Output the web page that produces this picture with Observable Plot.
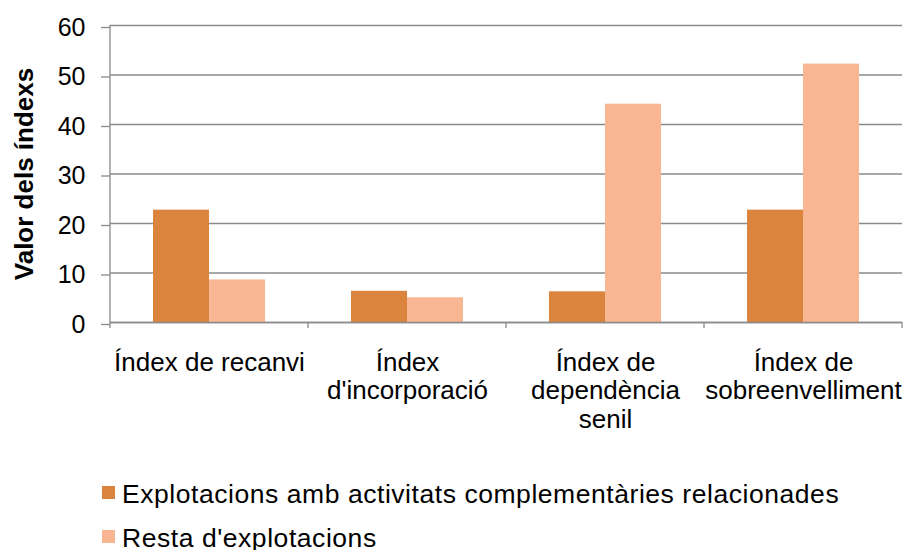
<!DOCTYPE html>
<html>
<head>
<meta charset="utf-8">
<script src="https://cdn.jsdelivr.net/npm/d3@7"></script>
<script src="https://cdn.jsdelivr.net/npm/@observablehq/plot@0.6"></script>
<style>
  html, body { margin: 0; padding: 0; background: #fff; }
  #wrap { position: relative; width: 908px; height: 550px; overflow: hidden; font-family: 'Liberation Sans', Arial, sans-serif; }
  .legend-row { position: absolute; left: 102px; height: 32px; font-size: 26.5px; line-height: 32px; letter-spacing: 0.55px; color: #000; white-space: nowrap; }
  .legend-row .sw { position: absolute; left: 0; top: 8px; width: 13px; height: 13px; }
  .legend-row .tx { position: absolute; left: 20px; top: 0; }
</style>
</head>
<body>
<div id="wrap"></div>
<script>
const categories = ["Índex de recanvi", "Índex d'incorporació", "Índex de dependència senil", "Índex de sobreenvelliment"];
const tickLabels = ["Índex de recanvi", "Índex\nd'incorporació", "Índex de\ndependència\nsenil", "Índex de\nsobreenvelliment"];
const seriesNames = ["Explotacions amb activitats complementàries relacionades", "Resta d'explotacions"];
const seriesA = [22.7, 6.3, 6.2, 22.7];
const seriesB = [8.6, 5.0, 44.1, 52.2];
const colors = ["#DB843E", "#F9B692"];
const yTicks = [0, 10, 20, 30, 40, 50, 60];
const yTitle = "Valor dels índexs";

const rows = categories.flatMap((c, i) => [
  {category: c, series: seriesNames[0], value: seriesA[i]},
  {category: c, series: seriesNames[1], value: seriesB[i]}
]);

const gridColor = "#8a8a8a";

const chart = Plot.plot({
  width: 908,
  height: 455,
  marginLeft: 109,
  marginRight: 5,
  marginTop: 25,
  marginBottom: 133,
  style: {fontFamily: "'Liberation Sans', Arial, sans-serif", background: "white", color: "#000"},
  fx: {domain: categories, padding: 0, label: null},
  x: {domain: seriesNames, paddingInner: 0, paddingOuter: 0.74, axis: null},
  y: {domain: [0, 60], label: null},
  color: {domain: seriesNames, range: colors},
  marks: [
    Plot.gridY(yTicks, {stroke: gridColor, strokeOpacity: 1, strokeWidth: 1.3}),
    Plot.barY(rows, {fx: "category", x: "series", y: "value", fill: "series"}),
    Plot.ruleY([0], {stroke: gridColor, strokeWidth: 1.3}),
    Plot.axisY(yTicks, {tickSize: 9, tickPadding: 16, fontSize: 25, stroke: gridColor, strokeWidth: 1.3, strokeOpacity: 1, label: null, dy: 2}),
    Plot.axisFx({anchor: "bottom", tickSize: 0, tickPadding: 28, fontSize: 26, lineHeight: 1.1, label: null,
      tickFormat: c => tickLabels[categories.indexOf(c)]}),
    Plot.text([yTitle], {fx: () => categories[0], frameAnchor: "left", textAnchor: "middle", lineAnchor: "middle",
      rotate: -90, dx: -86, fontWeight: "bold", fontSize: 26, fill: "#000"})
  ]
});

// axis line and category boundary ticks, positioned with the plot's own scales
const fx = chart.scale("fx");
const ys = chart.scale("y");
const y0 = ys.apply(0), yTop = ys.apply(60);
const edges = categories.map(c => fx.apply(c)).concat([fx.apply(categories[categories.length - 1]) + fx.bandwidth]);
const g = d3.select(chart).append("g").attr("stroke", gridColor).attr("stroke-width", 1.3);
g.append("line").attr("x1", edges[0]).attr("x2", edges[0]).attr("y1", yTop).attr("y2", y0 + 6);
edges.slice(1).forEach(x => g.append("line").attr("x1", x).attr("x2", x).attr("y1", y0).attr("y2", y0 + 6));

const wrap = document.getElementById("wrap");
wrap.appendChild(chart);

seriesNames.forEach((name, i) => {
  const row = document.createElement("div");
  row.className = "legend-row";
  row.style.top = (478 + i * 43.5) + "px";
  const sw = document.createElement("span");
  sw.className = "sw";
  sw.style.background = colors[i];
  const t = document.createElement("span");
  t.className = "tx";
  t.textContent = name;
  row.appendChild(sw);
  row.appendChild(t);
  wrap.appendChild(row);
});
</script>
</body>
</html>
